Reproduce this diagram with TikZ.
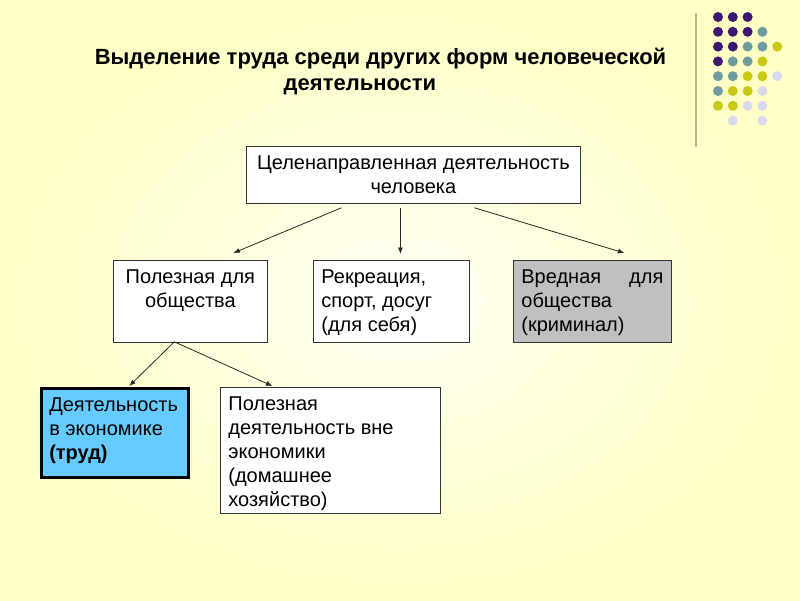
\documentclass[tikz,border=0pt]{standalone}
\usepackage{fontspec}
\setmainfont{Liberation Sans}
\usetikzlibrary{arrows.meta}
\usetikzlibrary{positioning}
\definecolor{bgin}{HTML}{FFFFF4}
\definecolor{bgout}{HTML}{FFFFC6}
\definecolor{dotp}{HTML}{3F1770}
\definecolor{dott}{HTML}{6C9C9E}
\definecolor{doty}{HTML}{C9C915}
\definecolor{dotl}{HTML}{D9D9EC}
\definecolor{econblue}{HTML}{66CCFF}
\definecolor{harmgray}{HTML}{C0C0C0}
\newcommand{\bodyfont}{\fontsize{20}{24}\selectfont}
\newcommand{\boxtext}[3]{\parbox[t][#2][t]{#1}{\bodyfont\rule{0pt}{23pt}#3}}
\tikzset{block/.style={draw=black!80, fill=white, line width=0.8pt, inner xsep=8pt, inner ysep=0pt, anchor=north west}}
\tikzset{connect/.style={draw=black!85, line width=0.8pt, -{Latex[length=6.5pt,width=5pt]}}}

\begin{document}
\begin{tikzpicture}[x=1pt,y=-1pt]

\shade[inner color=bgin, outer color=bgout] (0,0) rectangle (800,600);

%title
\node[anchor=base, font=\fontsize{22}{26}\bfseries\selectfont] (title) at (380.5,64.5) {Выделение труда среди других форм человеческой};
\node[anchor=base, font=\fontsize{22}{26}\bfseries\selectfont] (titlecont) at (360,90.5) {деятельности};

%dots
\draw[color=black!40!olive!45, line width=1.5pt] (696,13) -- (696,147);
\foreach \c [count=\i from 0] in {dotp,dotp,dotp} \fill[\c] ({718+14.8*\i},17) circle (5pt);
\foreach \c [count=\i from 0] in {dotp,dotp,dotp,dott} \fill[\c] ({718+14.8*\i},31.8) circle (5pt);
\foreach \c [count=\i from 0] in {dotp,dotp,dott,dott,doty} \fill[\c] ({718+14.8*\i},46.6) circle (5pt);
\foreach \c [count=\i from 0] in {dotp,dott,dott,doty} \fill[\c] ({718+14.8*\i},61.4) circle (5pt);
\foreach \c [count=\i from 0] in {dott,dott,doty,doty,dotl} \fill[\c] ({718+14.8*\i},76.2) circle (5pt);
\foreach \c [count=\i from 0] in {dott,doty,doty,dotl} \fill[\c] ({718+14.8*\i},91) circle (5pt);
\foreach \c [count=\i from 0] in {doty,doty,dotl,dotl} \fill[\c] ({718+14.8*\i},105.8) circle (5pt);
\fill[dotl] (732.8,120.6) circle (5pt);
\fill[dotl] (762.4,120.6) circle (5pt);

%top block
\node[block, minimum width=334pt, minimum height=57pt, align=center, font=\bodyfont] (goal) at (246,146) {Целенаправленная деятельность\\человека};

%middle blocks
\node[block] (useful) at (113,260) {\boxtext{138pt}{82pt}{\centering Полезная для\\общества}};
\node[block] (leisure) at (313,260) {\boxtext{140pt}{82pt}{Рекреация,\\спорт, досуг\\(для себя)}};
\node[block, fill=harmgray] (harmful) at (513,260) {\boxtext{142pt}{82pt}{Вредная\hfill для\\общества\\(криминал)}};

%bottom blocks
\node[block, fill=econblue, draw=black, line width=2.5pt] (economy) at (40,387) {\boxtext{131pt}{89pt}{Деятельность\\в экономике\\\textbf{(труд)}}};
\node[block] (household) at (220,387) {\boxtext{204pt}{126pt}{Полезная\\деятельность вне\\экономики\\(домашнее\\хозяйство)}};

%arrows from top
\path[connect] ([xshift=-72pt,yshift=-4pt]goal.south) -- ([xshift=43pt,yshift=7pt]useful.north);
\path[connect] ([xshift=-13pt,yshift=-4pt]goal.south) -- ([xshift=9pt,yshift=6pt]leisure.north);
\path[connect] ([xshift=61pt,yshift=-4pt]goal.south) -- ([xshift=32pt,yshift=7pt]harmful.north);

%arrows from useful
\path[connect] ([xshift=-16pt,yshift=1pt]useful.south) -- ([xshift=14.5pt,yshift=1pt]economy.north);
\path[connect] ([xshift=-16pt,yshift=1pt]useful.south) -- ([xshift=-58pt,yshift=1pt]household.north);

\end{tikzpicture}
\end{document}
